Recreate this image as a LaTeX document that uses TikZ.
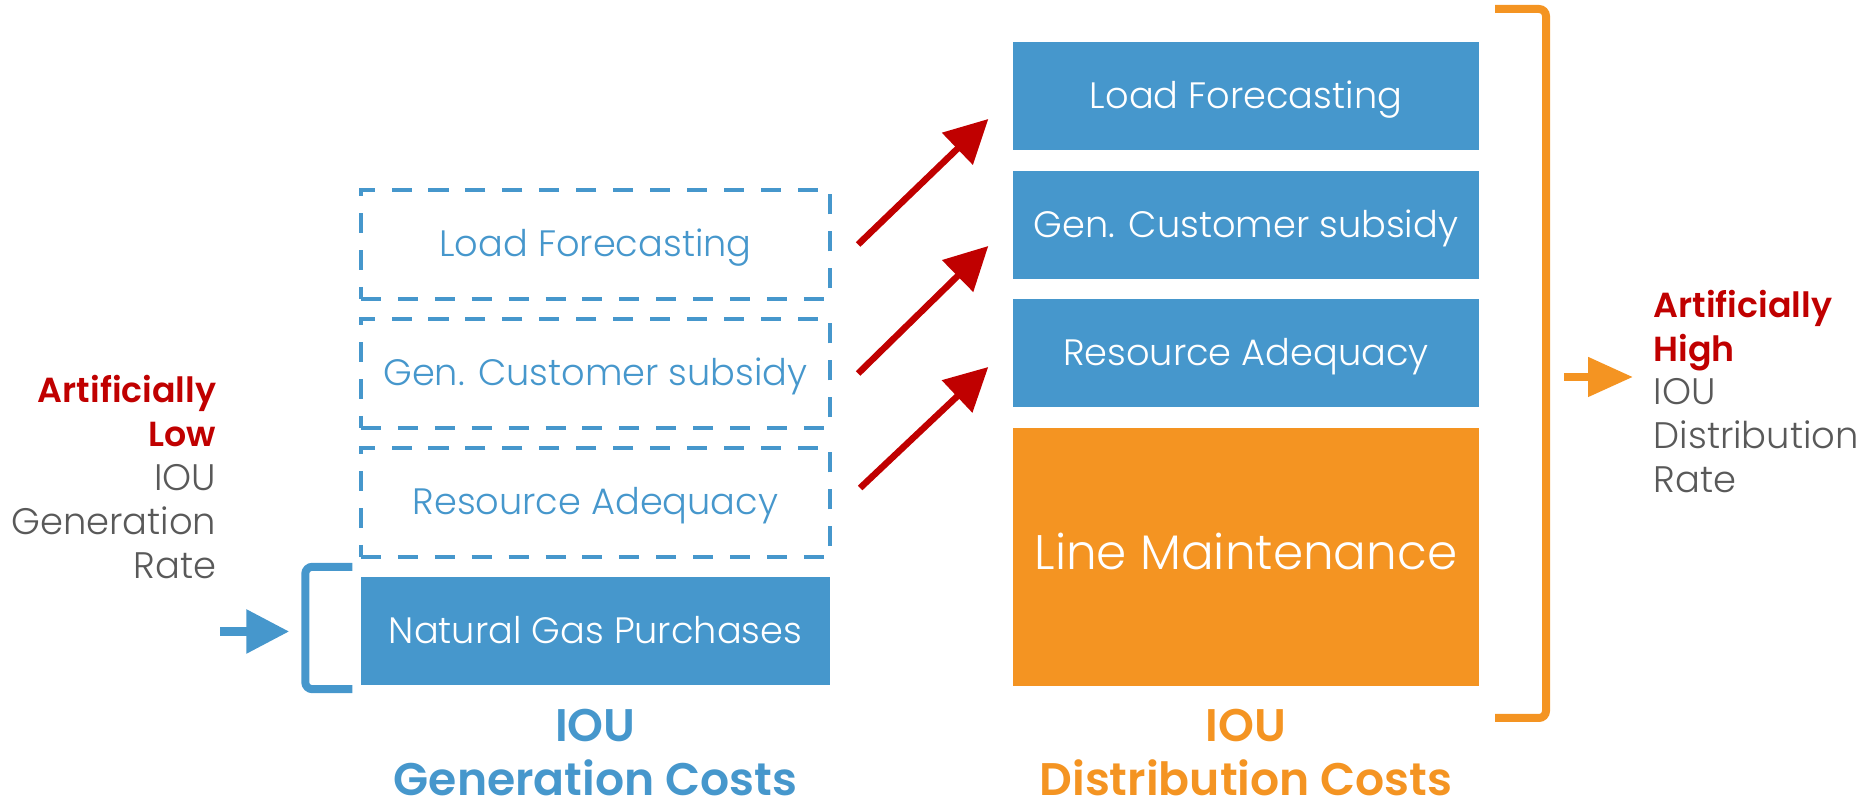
\documentclass[tikz,border=0pt]{standalone}
\usepackage{fontspec}
\setmainfont{Poppins}[UprightFont=* Light, BoldFont=* SemiBold]
\usetikzlibrary{positioning,arrows.meta}

\definecolor{genblue}{RGB}{70,151,204}
\definecolor{distorange}{RGB}{244,148,34}
\definecolor{flagred}{RGB}{192,0,0}
\definecolor{rategray}{RGB}{89,89,89}

\newcommand{\flag}[1]{\textcolor{flagred}{\fontsize{9.9}{12.5}\selectfont\bfseries #1}}

\tikzset{
  boxfont/.style={font=\fontsize{10.45}{12}\selectfont, text height=0.7em, text depth=0pt},
  costbox/.style={fill=genblue, text=white, minimum width=4.66cm,
    minimum height=1.08cm, inner sep=0pt, boxfont},
  movedbox/.style={draw=genblue, line width=1.2pt,
    dash pattern=on 5.7pt off 4.8pt, text=genblue, minimum width=4.69cm,
    minimum height=1.09cm, inner sep=0pt, boxfont},
  shiftarrow/.style={draw=flagred, line width=0.065cm,
    -{Triangle[length=0.43cm,width=0.43cm]}},
  ratetext/.style={text=rategray, inner sep=0pt,
    font=\fontsize{10.5}{12.5}\selectfont},
  costtitle/.style={inner sep=0pt, align=center, anchor=south,
    font=\fontsize{13}{15.4}\selectfont\bfseries},
}

\begin{document}
\begin{tikzpicture}[line cap=butt]
\useasboundingbox (0,0) rectangle (18.58,8.03);
% generation side: three moved items, one that stays
\node[movedbox] (g1) at (5.955,5.585) {Load Forecasting};
\node[movedbox] (g2) at (5.955,4.295) {Gen. Customer subsidy};
\node[movedbox] (g3) at (5.955,3.005) {Resource Adequacy};
\node[costbox, minimum width=4.69cm] (g4) at (5.955,1.715) {Natural Gas Purchases};
% distribution side
\node[costbox] (d1) at (12.46,7.065) {Load Forecasting};
\node[costbox] (d2) at (12.46,5.78) {Gen. Customer subsidy};
\node[costbox] (d3) at (12.46,4.495) {Resource Adequacy};
\node[costbox, fill=distorange, minimum height=2.58cm,
  font=\fontsize{13.8}{16}\selectfont] (d4) at (12.46,2.46) {Line Maintenance};
% titles
\node[costtitle, text=genblue] (gtitle) at (5.955,0.06) {IOU\\Generation Costs};
\node[costtitle, text=distorange] (dtitle) at (12.46,0.06) {IOU\\Distribution Costs};
% shifted costs
\draw[shiftarrow] ([xshift=0.26cm]g1.east) -- ([xshift=-0.24cm,yshift=-0.225cm]d1.west);
\draw[shiftarrow] ([xshift=0.26cm]g2.east) -- ([xshift=-0.24cm,yshift=-0.21cm]d2.west);
\draw[shiftarrow] ([xshift=0.28cm,yshift=0.145cm]g3.east) -- ([xshift=-0.24cm,yshift=-0.135cm]d3.west);
% generation rate bracket
\draw[genblue, line width=0.08cm, rounded corners=2pt]
  ([xshift=-0.08cm,yshift=0.1cm]g4.north west) -| ([xshift=-0.55cm,yshift=-0.03cm]g4.south west)
  -- ([xshift=-0.08cm,yshift=-0.03cm]g4.south west);
\draw[genblue, line width=0.09cm, -{Triangle[length=0.43cm,width=0.42cm]}]
  ([xshift=-1.4cm]g4.west) -- ([xshift=-0.71cm]g4.west);
\node[ratetext, align=right, anchor=east] (lowrate) at (2.17,3.26)
  {\flag{Artificially}\\\flag{Low}\\IOU\\Generation\\Rate};
% distribution rate bracket
\coordinate (dtop) at (14.95,7.94);
\coordinate (dbot) at (14.95,0.85);
\draw[distorange, line width=0.08cm, rounded corners=2pt]
  (dtop) -| (15.46,0.85) -- (dbot);
\coordinate (dout) at (15.64,4.26);
\draw[distorange, line width=0.08cm, -{Triangle[length=0.45cm,width=0.38cm]}]
  (dout) -- ++(0.69,0);
\node[ratetext, align=left, anchor=west] (highrate) at (16.53,4.115)
  {\flag{Artificially}\\\flag{High}\\IOU\\Distribution\\Rate};
\end{tikzpicture}
\end{document}
